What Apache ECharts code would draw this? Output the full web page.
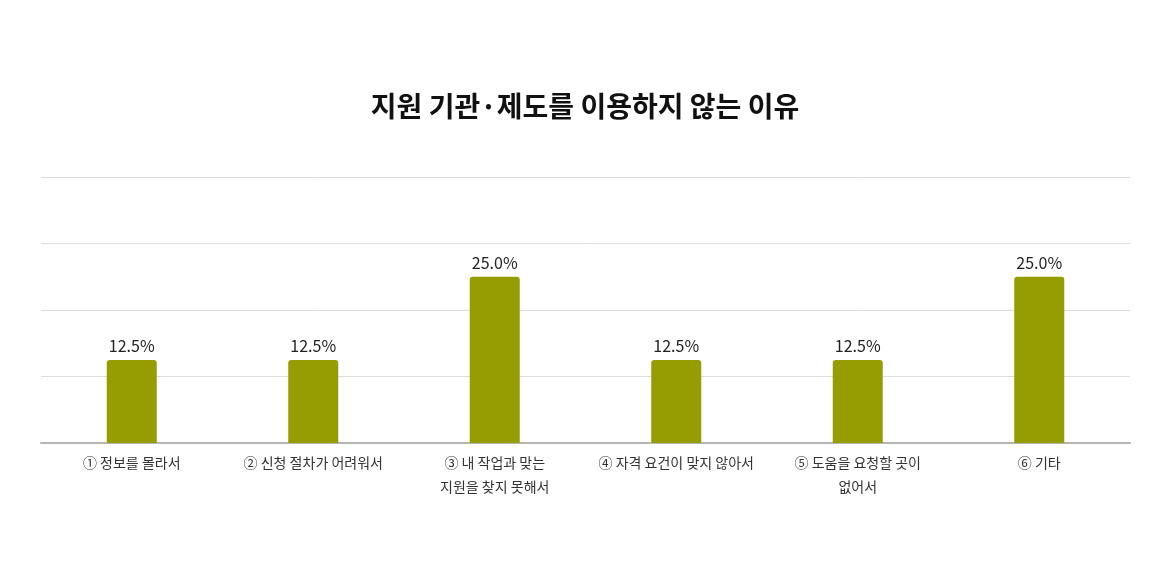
<!DOCTYPE html>
<html>
<head>
<meta charset="utf-8">
<script src="https://cdn.jsdelivr.net/npm/echarts@6/dist/echarts.min.js"></script>
<style>
html,body{margin:0;padding:0;background:#fff;}
#chart{width:1170px;height:580px;}
</style>
</head>
<body>
<div id="chart"></div>
<script>
var titleText = '지원 기관·제도를 이용하지 않는 이유';
var categories = [
  '① 정보를 몰라서',
  '② 신청 절차가 어려워서',
  '③ 내 작업과 맞는\n지원을 찾지 못해서',
  '④ 자격 요건이 맞지 않아서',
  '⑤ 도움을 요청할 곳이\n없어서',
  '⑥ 기타'
];
var values = [12.5, 12.5, 25.0, 12.5, 12.5, 25.0];

var chart = echarts.init(document.getElementById('chart'));
chart.setOption({
  backgroundColor: '#ffffff',
  animation: false,
  title: {
    text: titleText,
    left: 'center',
    top: 87,
    textStyle: {
      fontFamily: 'Noto Sans CJK KR',
      fontSize: 28,
      fontWeight: 'bold',
      color: '#111111'
    }
  },
  grid: { left: 41, right: 40, top: 177, bottom: 137, containLabel: false },
  xAxis: {
    type: 'category',
    data: categories,
    axisLine: { lineStyle: { color: '#b5b5b5', width: 2 } },
    axisTick: { show: false },
    axisLabel: {
      interval: 0,
      margin: 8,
      fontFamily: 'Noto Sans CJK KR',
      fontSize: 14,
      lineHeight: 24,
      color: '#333333'
    }
  },
  yAxis: {
    type: 'value',
    min: 0,
    max: 40,
    interval: 10,
    axisLabel: { show: false },
    axisLine: { show: false },
    axisTick: { show: false },
    splitLine: { lineStyle: { color: '#dddddd', width: 1 } }
  },
  series: [{
    type: 'bar',
    data: values,
    barWidth: 50,
    itemStyle: { color: '#969d03', borderRadius: [3, 3, 0, 0] },
    label: {
      show: true,
      position: 'top',
      distance: 6,
      formatter: function (p) { return p.value.toFixed(1) + '%'; },
      fontFamily: 'Noto Sans CJK KR',
      fontSize: 16,
      color: '#222222'
    }
  }]
});
</script>
</body>
</html>
